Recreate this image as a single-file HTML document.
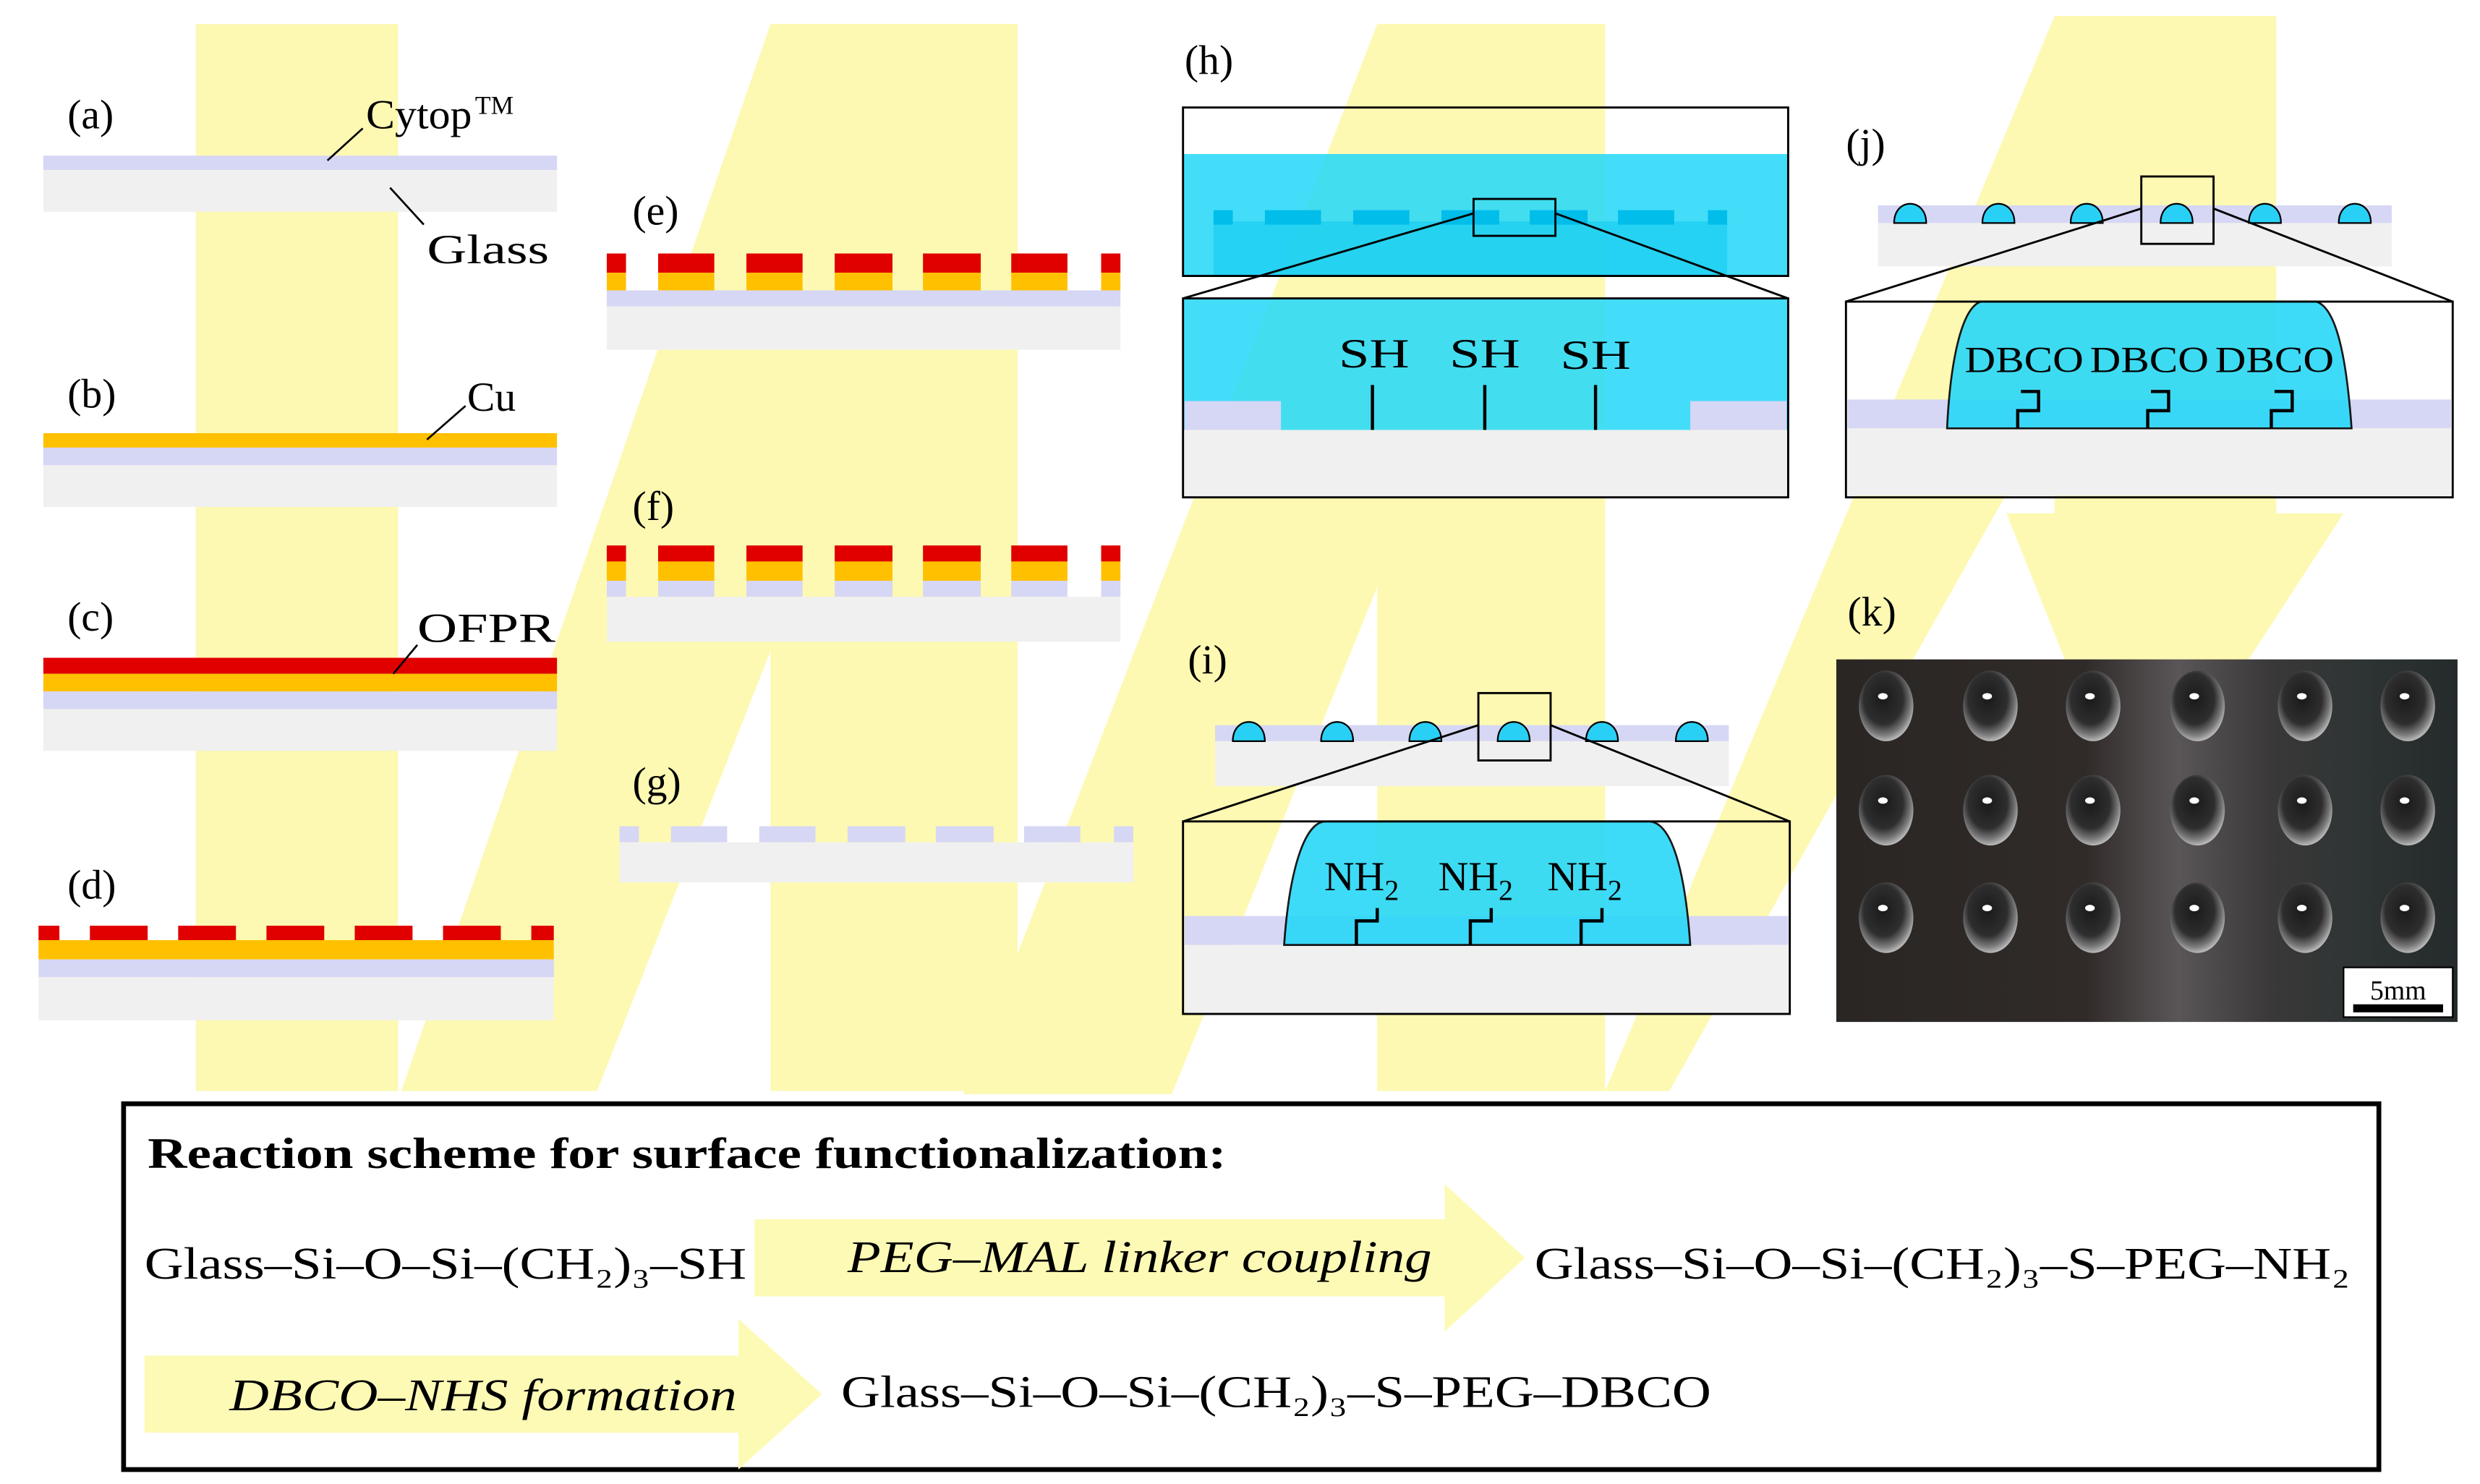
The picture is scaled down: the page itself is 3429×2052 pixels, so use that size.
<!DOCTYPE html>
<html><head><meta charset="utf-8"><style>
html,body{margin:0;padding:0;background:#fff;}
svg{display:block;}
text{font-family:"Liberation Serif","Times New Roman",serif;fill:#000;}
</style></head><body>
<svg width="3429" height="2052" viewBox="0 0 1545 925" preserveAspectRatio="none" xmlns="http://www.w3.org/2000/svg">
<rect width="1545" height="925" fill="#fff"/>
<!-- yellow watermark (behind) -->
<g fill="#fdf9b2">
<rect x="122" y="15" width="126" height="665"/>
<polygon points="250,680 372,680 634,15 480,15"/>
<rect x="480" y="15" width="154" height="665"/>
<polygon points="600,682 730,682 1000,15 858,15"/>
<rect x="858" y="15" width="142" height="665"/>
<polygon points="1000,680 1040,680 1418,10 1280,10"/>
<rect x="1280" y="10" width="138" height="310"/>
<polygon points="1250,320 1460,320 1330,520"/>
</g>
<g id="shapes">
<!-- (a) -->
<rect x="27" y="97" width="320" height="9" fill="#d6d6f5"/>
<rect x="27" y="106" width="320" height="26" fill="#f0f0f0"/>
<!-- (b) -->
<rect x="27" y="270" width="320" height="9" fill="#ffc000"/>
<rect x="27" y="279" width="320" height="11" fill="#d6d6f5"/>
<rect x="27" y="290" width="320" height="26" fill="#f0f0f0"/>
<!-- (c) -->
<rect x="27" y="410" width="320" height="10" fill="#e00000"/>
<rect x="27" y="420" width="320" height="11" fill="#ffc000"/>
<rect x="27" y="431" width="320" height="11" fill="#d6d6f5"/>
<rect x="27" y="442" width="320" height="26" fill="#f0f0f0"/>
<!-- (d) -->
<g fill="#e00000">
<rect x="24" y="577" width="13" height="9"/><rect x="56" y="577" width="36" height="9"/><rect x="111" y="577" width="36" height="9"/><rect x="166" y="577" width="36" height="9"/><rect x="221" y="577" width="36" height="9"/><rect x="276" y="577" width="36" height="9"/><rect x="331" y="577" width="14" height="9"/>
</g>
<rect x="24" y="586" width="321" height="12" fill="#ffc000"/>
<rect x="24" y="598" width="321" height="11" fill="#d6d6f5"/>
<rect x="24" y="609" width="321" height="27" fill="#f0f0f0"/>
<!-- (e) -->
<g>
<rect x="378" y="158" width="12" height="12" fill="#e00000"/><rect x="410" y="158" width="35" height="12" fill="#e00000"/><rect x="465" y="158" width="35" height="12" fill="#e00000"/><rect x="520" y="158" width="36" height="12" fill="#e00000"/><rect x="575" y="158" width="36" height="12" fill="#e00000"/><rect x="630" y="158" width="35" height="12" fill="#e00000"/><rect x="686" y="158" width="12" height="12" fill="#e00000"/>
<rect x="378" y="170" width="12" height="11" fill="#ffc000"/><rect x="410" y="170" width="35" height="11" fill="#ffc000"/><rect x="465" y="170" width="35" height="11" fill="#ffc000"/><rect x="520" y="170" width="36" height="11" fill="#ffc000"/><rect x="575" y="170" width="36" height="11" fill="#ffc000"/><rect x="630" y="170" width="35" height="11" fill="#ffc000"/><rect x="686" y="170" width="12" height="11" fill="#ffc000"/>
</g>
<rect x="378" y="181" width="320" height="10" fill="#d6d6f5"/>
<rect x="378" y="191" width="320" height="27" fill="#f0f0f0"/>
<!-- (f) -->
<g>
<rect x="378" y="340" width="12" height="10" fill="#e00000"/><rect x="410" y="340" width="35" height="10" fill="#e00000"/><rect x="465" y="340" width="35" height="10" fill="#e00000"/><rect x="520" y="340" width="36" height="10" fill="#e00000"/><rect x="575" y="340" width="36" height="10" fill="#e00000"/><rect x="630" y="340" width="35" height="10" fill="#e00000"/><rect x="686" y="340" width="12" height="10" fill="#e00000"/>
<rect x="378" y="350" width="12" height="12" fill="#ffc000"/><rect x="410" y="350" width="35" height="12" fill="#ffc000"/><rect x="465" y="350" width="35" height="12" fill="#ffc000"/><rect x="520" y="350" width="36" height="12" fill="#ffc000"/><rect x="575" y="350" width="36" height="12" fill="#ffc000"/><rect x="630" y="350" width="35" height="12" fill="#ffc000"/><rect x="686" y="350" width="12" height="12" fill="#ffc000"/>
<rect x="378" y="362" width="12" height="10" fill="#d6d6f5"/><rect x="410" y="362" width="35" height="10" fill="#d6d6f5"/><rect x="465" y="362" width="35" height="10" fill="#d6d6f5"/><rect x="520" y="362" width="36" height="10" fill="#d6d6f5"/><rect x="575" y="362" width="36" height="10" fill="#d6d6f5"/><rect x="630" y="362" width="35" height="10" fill="#d6d6f5"/><rect x="686" y="362" width="12" height="10" fill="#d6d6f5"/>
</g>
<rect x="378" y="372" width="320" height="28" fill="#f0f0f0"/>
<!-- (g) -->
<g fill="#d6d6f5">
<rect x="386" y="515" width="12" height="10"/><rect x="418" y="515" width="35" height="10"/><rect x="473" y="515" width="35" height="10"/><rect x="528" y="515" width="36" height="10"/><rect x="583" y="515" width="36" height="10"/><rect x="638" y="515" width="35" height="10"/><rect x="694" y="515" width="12" height="10"/>
</g>
<rect x="386" y="525" width="320" height="25" fill="#f0f0f0"/>
<!-- (h) -->
<rect x="737" y="67" width="377" height="29" fill="#fff" opacity="0.0"/>
<rect x="737" y="96" width="377" height="76" fill="#29d8f8" opacity="0.88"/>
<rect x="756" y="138" width="320" height="34" fill="#12ccee" opacity="0.6"/>
<g fill="#00bdea">
<rect x="756" y="131" width="12" height="9"/><rect x="788" y="131" width="35" height="9"/><rect x="843" y="131" width="35" height="9"/><rect x="898" y="131" width="36" height="9"/><rect x="953" y="131" width="36" height="9"/><rect x="1008" y="131" width="35" height="9"/><rect x="1064" y="131" width="12" height="9"/>
</g>
<rect x="737" y="67" width="377" height="105" fill="none" stroke="#000" stroke-width="1.3"/>
<rect x="918" y="124" width="51" height="23" fill="none" stroke="#000" stroke-width="1.3"/>
<line x1="918" y1="133" x2="737" y2="186" stroke="#000" stroke-width="1.3"/>
<line x1="969" y1="133" x2="1114" y2="186" stroke="#000" stroke-width="1.3"/>
<rect x="737" y="186" width="377" height="82" fill="#29d8f8" opacity="0.88"/>
<rect x="738" y="250" width="60" height="18" fill="#d6d6f5"/>
<rect x="1053" y="250" width="60" height="18" fill="#d6d6f5"/>
<rect x="737" y="268" width="377" height="42" fill="#f0f0f0"/>
<rect x="737" y="186" width="377" height="124" fill="none" stroke="#000" stroke-width="1.3"/>
<g stroke="#000" stroke-width="2"><line x1="855" y1="240" x2="855" y2="268"/><line x1="925" y1="240" x2="925" y2="268"/><line x1="994" y1="240" x2="994" y2="268"/></g>
<!-- (i) -->
<rect x="757" y="452" width="320" height="10" fill="#d6d6f5"/>
<rect x="757" y="462" width="320" height="28" fill="#f0f0f0"/>
<g fill="#29d0f5" stroke="#000" stroke-width="1">
<path d="M768 462 C768 446 788 446 788 462 Z"/><path d="M823 462 C823 446 843 446 843 462 Z"/><path d="M878 462 C878 446 898 446 898 462 Z"/><path d="M933 462 C933 446 953 446 953 462 Z"/><path d="M988 462 C988 446 1008 446 1008 462 Z"/><path d="M1044 462 C1044 446 1064 446 1064 462 Z"/>
</g>
<rect x="921" y="432" width="45" height="42" fill="none" stroke="#000" stroke-width="1.3"/>
<line x1="921" y1="452" x2="737" y2="512" stroke="#000" stroke-width="1.3"/>
<line x1="966" y1="452" x2="1115" y2="512" stroke="#000" stroke-width="1.3"/>
<rect x="738" y="571" width="376" height="18" fill="#d6d6f5"/>
<rect x="738" y="589" width="376" height="43" fill="#f0f0f0"/>
<path d="M800 589 C803 545 812 512 826 512 L1027 512 C1042 512 1050 545 1053 589 Z" fill="#29d8f8" opacity="0.9" stroke="#000" stroke-width="1.2"/>
<rect x="737" y="512" width="378" height="120" fill="none" stroke="#000" stroke-width="1.3"/>
<g fill="none" stroke="#000" stroke-width="2">
<path d="M845 589 V574 H858 V566"/><path d="M916 589 V574 H929 V566"/><path d="M985 589 V574 H998 V566"/>
</g>
<!-- (j) -->
<rect x="1170" y="128" width="320" height="11" fill="#d6d6f5"/>
<rect x="1170" y="139" width="320" height="27" fill="#f0f0f0"/>
<g fill="#29d0f5" stroke="#000" stroke-width="1">
<path d="M1180 139 C1180 123 1200 123 1200 139 Z"/><path d="M1235 139 C1235 123 1255 123 1255 139 Z"/><path d="M1290 139 C1290 123 1310 123 1310 139 Z"/><path d="M1346 139 C1346 123 1366 123 1366 139 Z"/><path d="M1401 139 C1401 123 1421 123 1421 139 Z"/><path d="M1457 139 C1457 123 1477 123 1477 139 Z"/>
</g>
<rect x="1334" y="110" width="45" height="42" fill="none" stroke="#000" stroke-width="1.3"/>
<line x1="1334" y1="130" x2="1150" y2="188" stroke="#000" stroke-width="1.3"/>
<line x1="1379" y1="130" x2="1528" y2="188" stroke="#000" stroke-width="1.3"/>
<rect x="1151" y="249" width="376" height="18" fill="#d6d6f5"/>
<rect x="1151" y="267" width="376" height="42" fill="#f0f0f0"/>
<path d="M1213 267 C1215 225 1222 192 1234 188 L1443 188 C1456 192 1462 225 1465 267 Z" fill="#29d8f8" opacity="0.9" stroke="#000" stroke-width="1.2"/>
<rect x="1150" y="188" width="378" height="122" fill="none" stroke="#000" stroke-width="1.3"/>
<g fill="none" stroke="#000" stroke-width="2">
<path d="M1257 267 V256 H1270 V244 H1259"/><path d="M1338 267 V256 H1351 V244 H1340"/><path d="M1415 267 V256 H1428 V244 H1417"/>
</g>
</g>
<!-- (k) photo -->
<defs>
<linearGradient id="pg" x1="0" x2="1" y1="0" y2="0">
<stop offset="0" stop-color="#2a2624"/><stop offset="0.4" stop-color="#302b29"/><stop offset="0.55" stop-color="#5a5658"/><stop offset="0.7" stop-color="#3a3838"/><stop offset="0.85" stop-color="#2e3434"/><stop offset="1" stop-color="#252a2b"/>
</linearGradient>
<radialGradient id="dg" cx="0.45" cy="0.4" r="0.6">
<stop offset="0" stop-color="#1a1a1a"/><stop offset="0.6" stop-color="#2e2e2e"/><stop offset="0.85" stop-color="#7a7a7a"/><stop offset="1" stop-color="#b8b8b8"/>
</radialGradient>
</defs>
<rect x="1144" y="411" width="387" height="226" fill="url(#pg)"/>
<g id="drops">
<g transform="translate(1175,440)"><ellipse rx="17" ry="22" fill="url(#dg)"/><ellipse cx="-2" cy="-6" rx="3" ry="2" fill="#fff"/></g>
<g transform="translate(1240,440)"><ellipse rx="17" ry="22" fill="url(#dg)"/><ellipse cx="-2" cy="-6" rx="3" ry="2" fill="#fff"/></g>
<g transform="translate(1304,440)"><ellipse rx="17" ry="22" fill="url(#dg)"/><ellipse cx="-2" cy="-6" rx="3" ry="2" fill="#fff"/></g>
<g transform="translate(1369,440)"><ellipse rx="17" ry="22" fill="url(#dg)"/><ellipse cx="-2" cy="-6" rx="3" ry="2" fill="#fff"/></g>
<g transform="translate(1436,440)"><ellipse rx="17" ry="22" fill="url(#dg)"/><ellipse cx="-2" cy="-6" rx="3" ry="2" fill="#fff"/></g>
<g transform="translate(1500,440)"><ellipse rx="17" ry="22" fill="url(#dg)"/><ellipse cx="-2" cy="-6" rx="3" ry="2" fill="#fff"/></g>
<g transform="translate(1175,505)"><ellipse rx="17" ry="22" fill="url(#dg)"/><ellipse cx="-2" cy="-6" rx="3" ry="2" fill="#fff"/></g>
<g transform="translate(1240,505)"><ellipse rx="17" ry="22" fill="url(#dg)"/><ellipse cx="-2" cy="-6" rx="3" ry="2" fill="#fff"/></g>
<g transform="translate(1304,505)"><ellipse rx="17" ry="22" fill="url(#dg)"/><ellipse cx="-2" cy="-6" rx="3" ry="2" fill="#fff"/></g>
<g transform="translate(1369,505)"><ellipse rx="17" ry="22" fill="url(#dg)"/><ellipse cx="-2" cy="-6" rx="3" ry="2" fill="#fff"/></g>
<g transform="translate(1436,505)"><ellipse rx="17" ry="22" fill="url(#dg)"/><ellipse cx="-2" cy="-6" rx="3" ry="2" fill="#fff"/></g>
<g transform="translate(1500,505)"><ellipse rx="17" ry="22" fill="url(#dg)"/><ellipse cx="-2" cy="-6" rx="3" ry="2" fill="#fff"/></g>
<g transform="translate(1175,572)"><ellipse rx="17" ry="22" fill="url(#dg)"/><ellipse cx="-2" cy="-6" rx="3" ry="2" fill="#fff"/></g>
<g transform="translate(1240,572)"><ellipse rx="17" ry="22" fill="url(#dg)"/><ellipse cx="-2" cy="-6" rx="3" ry="2" fill="#fff"/></g>
<g transform="translate(1304,572)"><ellipse rx="17" ry="22" fill="url(#dg)"/><ellipse cx="-2" cy="-6" rx="3" ry="2" fill="#fff"/></g>
<g transform="translate(1369,572)"><ellipse rx="17" ry="22" fill="url(#dg)"/><ellipse cx="-2" cy="-6" rx="3" ry="2" fill="#fff"/></g>
<g transform="translate(1436,572)"><ellipse rx="17" ry="22" fill="url(#dg)"/><ellipse cx="-2" cy="-6" rx="3" ry="2" fill="#fff"/></g>
<g transform="translate(1500,572)"><ellipse rx="17" ry="22" fill="url(#dg)"/><ellipse cx="-2" cy="-6" rx="3" ry="2" fill="#fff"/></g>
</g>
<rect x="1460" y="603" width="68" height="31" fill="#fff" stroke="#000" stroke-width="1"/>
<text x="1494" y="623" font-size="17" text-anchor="middle">5mm</text>
<rect x="1466" y="626" width="56" height="5" fill="#000"/>

<!-- leader lines -->
<g stroke="#000" stroke-width="1.2">
<line x1="226" y1="80" x2="204" y2="100"/>
<line x1="243" y1="117" x2="264" y2="140"/>
<line x1="290" y1="253" x2="266" y2="274"/>
<line x1="260" y1="402" x2="245" y2="420"/>
</g>
<!-- labels -->
<g font-size="26">
<text x="42" y="80">(a)</text>
<text x="42" y="254">(b)</text>
<text x="42" y="393">(c)</text>
<text x="42" y="560">(d)</text>
<text x="394" y="140">(e)</text>
<text x="394" y="324">(f)</text>
<text x="394" y="496">(g)</text>
<text x="738" y="46">(h)</text>
<text x="1150" y="98">(j)</text>
<text x="740" y="420">(i)</text>
<text x="1151" y="390">(k)</text>
<text x="228" y="80" textLength="66" lengthAdjust="spacingAndGlyphs">Cytop</text><text x="296" y="71" font-size="16">TM</text>
<text x="266" y="164" textLength="76" lengthAdjust="spacingAndGlyphs">Glass</text>
<text x="291" y="256">Cu</text>
<text x="260" y="400" textLength="86" lengthAdjust="spacingAndGlyphs">OFPR</text>
<text x="834" y="229" textLength="44" lengthAdjust="spacingAndGlyphs">SH</text>
<text x="903" y="229" textLength="44" lengthAdjust="spacingAndGlyphs">SH</text>
<text x="972" y="230" textLength="44" lengthAdjust="spacingAndGlyphs">SH</text>
<text x="825" y="555">NH<tspan font-size="18" dy="6">2</tspan></text>
<text x="896" y="555">NH<tspan font-size="18" dy="6">2</tspan></text>
<text x="964" y="555">NH<tspan font-size="18" dy="6">2</tspan></text>
</g>
<g font-size="23">
<text x="1224" y="232" textLength="74" lengthAdjust="spacingAndGlyphs">DBCO</text>
<text x="1302" y="232" textLength="74" lengthAdjust="spacingAndGlyphs">DBCO</text>
<text x="1380" y="232" textLength="74" lengthAdjust="spacingAndGlyphs">DBCO</text>
</g>

<!-- bottom box -->
<rect x="77" y="688" width="1405" height="228" fill="#fff" stroke="#000" stroke-width="3"/>
<text x="92" y="728" font-size="27" font-weight="bold" textLength="672" lengthAdjust="spacingAndGlyphs">Reaction scheme for surface functionalization:</text>
<polygon points="470,760 900,760 900,738 950,784 900,830 900,808 470,808" fill="#fdfab5"/>
<polygon points="90,845 460,845 460,822 512,869 460,916 460,893 90,893" fill="#fdfab5"/>
<text x="90" y="797" font-size="28" textLength="375" lengthAdjust="spacingAndGlyphs">Glass–Si–O–Si–(CH₂)₃–SH</text>
<text x="528" y="793" font-size="28" font-style="italic" textLength="364" lengthAdjust="spacingAndGlyphs">PEG–MAL linker coupling</text>
<text x="956" y="797" font-size="28" textLength="508" lengthAdjust="spacingAndGlyphs">Glass–Si–O–Si–(CH₂)₃–S–PEG–NH₂</text>
<text x="143" y="879" font-size="28" font-style="italic" textLength="316" lengthAdjust="spacingAndGlyphs">DBCO–NHS formation</text>
<text x="524" y="877" font-size="28" textLength="542" lengthAdjust="spacingAndGlyphs">Glass–Si–O–Si–(CH₂)₃–S–PEG–DBCO</text>
</svg>
</body></html>
